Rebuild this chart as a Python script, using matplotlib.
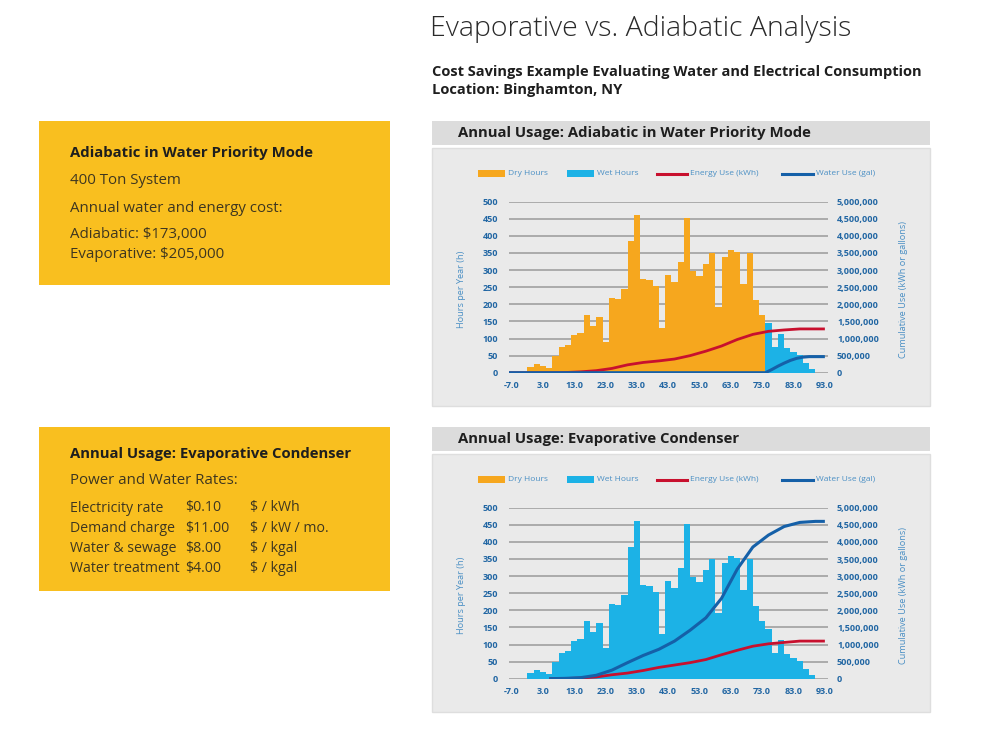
import numpy as np
import matplotlib
matplotlib.use("Agg")
import matplotlib.pyplot as plt
from matplotlib.patches import Rectangle
from matplotlib.lines import Line2D
from matplotlib.ticker import FuncFormatter

plt.rcParams["font.family"] = ["Open Sans", "DejaVu Sans"]

W, H = 1000, 732

# temperature bins (bin centres, deg F) and hours per year in each bin
temps = [-1, 1, 3, 5, 7, 9, 11, 13, 15, 17, 19, 21, 23, 25, 27, 29, 31, 33, 35, 37,
         39, 41, 43, 45, 47, 49, 51, 53, 55, 57, 59, 61, 63, 65, 67, 69, 71, 73,
         75, 77, 79, 81, 83, 85, 87, 89]
hours = [17, 25, 20, 15, 48, 76, 82, 110, 116, 170, 136, 162, 90, 217, 216, 245, 385, 460, 275, 270,
         253, 130, 287, 265, 323, 452, 297, 282, 318, 350, 192, 338, 360, 352, 260, 350, 212, 168,
         146, 76, 112, 71, 61, 51, 27, 12]
dry_limit = 74  # adiabatic unit runs dry below this temperature

# cumulative use, adiabatic (water priority)
adia_energy_t = [-8, 5, 10, 15, 20, 25, 30, 35, 40, 45, 50, 55, 60, 65, 70, 75, 80, 85, 90, 93]
adia_energy = [0, 0, 5e3, 25e3, 60e3, 125e3, 230e3, 300e3, 345e3, 400e3, 500e3, 630e3, 780e3,
               970e3, 1120e3, 1210e3, 1250e3, 1280e3, 1280e3, 1280e3]
adia_water_t = [-8, 74, 76, 78, 80, 82, 84, 86, 88, 90, 93]
adia_water = [0, 0, 90e3, 190e3, 280e3, 360e3, 420e3, 455e3, 470e3, 470e3, 470e3]

# cumulative use, evaporative condenser
evap_energy_t = [5, 10, 15, 20, 25, 30, 35, 40, 45, 50, 55, 60, 65, 70, 75, 80, 85, 90, 93]
evap_energy = [0, 5e3, 20e3, 50e3, 115e3, 165e3, 240e3, 330e3, 400e3, 470e3, 560e3, 700e3,
               830e3, 950e3, 1020e3, 1060e3, 1100e3, 1100e3, 1100e3]
evap_water_t = [5, 10, 15, 20, 25, 30, 35, 40, 45, 50, 55, 60, 65, 70, 75, 80, 85, 90, 93]
evap_water = [0, 10e3, 30e3, 100e3, 250e3, 470e3, 680e3, 860e3, 1100e3, 1420e3, 1780e3, 2350e3,
              3200e3, 3850e3, 4200e3, 4450e3, 4570e3, 4600e3, 4600e3]

x_ticks = [-7, 3, 13, 23, 33, 43, 53, 63, 73, 83, 93]

rates = [
    ("Electricity rate", "$0.10", "$ / kWh"),
    ("Demand charge", "$11.00", "$ / kW / mo."),
    ("Water & sewage", "$8.00", "$ / kgal"),
    ("Water treatment", "$4.00", "$ / kgal"),
]

ORANGE = "#F6A71E"
CYAN = "#1CB2E6"
RED = "#C8102E"
NAVY = "#1560A8"
TICK = "#2166A3"
LABEL = "#4A8FC4"
YELLOW = "#F9BF1F"
BOXTXT = "#3E3620"


def px_axes(fig, x0, y0, x1, y1):
    return fig.add_axes([x0 / W, 1 - y1 / H, (x1 - x0) / W, (y1 - y0) / H])


def draw_legend(bg, yc):
    bg.add_patch(Rectangle((478, yc - 3.5), 27, 7, color=ORANGE, lw=0))
    bg.text(508, yc, "Dry Hours", fontsize=6, color=LABEL, va="center")
    bg.add_patch(Rectangle((567, yc - 3.5), 27, 7, color=CYAN, lw=0))
    bg.text(597, yc, "Wet Hours", fontsize=6, color=LABEL, va="center")
    bg.add_line(Line2D([657, 687], [yc, yc], color=RED, lw=2.2))
    bg.text(690, yc, "Energy Use (kWh)", fontsize=6, color=LABEL, va="center")
    bg.add_line(Line2D([782, 813], [yc, yc], color=NAVY, lw=2.2))
    bg.text(816, yc, "Water Use (gal)", fontsize=6, color=LABEL, va="center")


def draw_chart(fig, bg, top, title, bar_colors, energy_t, energy, water_t, water):
    # panel: header band + body
    bg.add_patch(Rectangle((432, top), 498, 24, color="#DCDCDC", lw=0))
    bg.text(458, top + 12, title, fontsize=10.7, fontweight="bold", color="#1E1E1E", va="center")
    bg.add_patch(Rectangle((432, top + 27), 498, 258, facecolor="#EAEAEA",
                           edgecolor="#DEDEDE", lw=1))
    draw_legend(bg, top + 52.5)

    y0 = top + 80.7
    y1 = top + 251.7
    ax = px_axes(fig, 508.6, y0, 828, y1)
    ax.set_facecolor("none")
    ax.set_axisbelow(True)
    ax.bar(temps, hours, width=2.0, color=bar_colors, lw=0)
    ax.set_xlim(-8, 94)
    ax.set_ylim(0, 500)
    ax.set_yticks(range(0, 501, 50))
    ax.set_xticks(x_ticks)
    ax.set_xticklabels(["%.1f" % t for t in x_ticks])
    ax.grid(axis="y", color="#9A9A9A", lw=1.1)
    for s in ax.spines.values():
        s.set_visible(False)
    ax.tick_params(length=0, labelsize=6.5, labelcolor=TICK)
    ax.tick_params(axis="y", pad=7.5)
    ax.tick_params(axis="x", pad=6)
    for lab in ax.get_xticklabels() + ax.get_yticklabels():
        lab.set_fontweight("bold")

    ax2 = ax.twinx()
    ax2.set_ylim(0, 5e6)
    ax2.set_yticks(np.arange(0, 5e6 + 1, 5e5))
    ax2.yaxis.set_major_formatter(FuncFormatter(lambda v, p: "{:,}".format(int(v))))
    for s in ax2.spines.values():
        s.set_visible(False)
    ax2.tick_params(length=0, labelsize=6.5, labelcolor=TICK, pad=6.5)
    for lab in ax2.get_yticklabels():
        lab.set_fontweight("bold")
    ax2.plot(energy_t, energy, color=RED, lw=2.0, solid_capstyle="butt")
    ax2.plot(water_t, water, color=NAVY, lw=2.2, solid_capstyle="butt")
    ax2.set_xlim(-8, 94)

    yc = (y0 + y1) / 2 + 2
    bg.text(462, yc, "Hours per Year (h)", fontsize=6.6, color=LABEL, rotation=90,
            ha="center", va="center")
    bg.text(903, yc, "Cumulative Use (kWh or gallons)", fontsize=6.6, color=LABEL,
            rotation=90, ha="center", va="center")


def main():
    fig = plt.figure(figsize=(W / 100, H / 100), dpi=100)
    fig.patch.set_facecolor("white")
    bg = fig.add_axes([0, 0, 1, 1])
    bg.set_xlim(0, W)
    bg.set_ylim(H, 0)
    bg.axis("off")

    # header text
    bg.text(430, 29, "Evaporative vs. Adiabatic Analysis", fontsize=20.5, fontweight="light",
            color="#2A2A2A", va="center")
    bg.text(432, 72, "Cost Savings Example Evaluating Water and Electrical Consumption",
            fontsize=10.5, fontweight="bold", color="#1E1E1E", va="center")
    bg.text(432, 90, "Location: Binghamton, NY", fontsize=10.5, fontweight="bold",
            color="#1E1E1E", va="center")

    # left info boxes
    bg.add_patch(Rectangle((39, 121), 351, 164, color=YELLOW, lw=0))
    bg.text(70, 153, "Adiabatic in Water Priority Mode", fontsize=10.7, fontweight="bold",
            color="#1E1E1E", va="center")
    bg.text(70, 180, "400 Ton System", fontsize=10.8, color=BOXTXT, va="center")
    bg.text(70, 208, "Annual water and energy cost:", fontsize=10.8, color=BOXTXT, va="center")
    bg.text(70, 235, "Adiabatic: $173,000", fontsize=10.8, color=BOXTXT, va="center")
    bg.text(70, 254, "Evaporative: $205,000", fontsize=10.8, color=BOXTXT, va="center")

    bg.add_patch(Rectangle((39, 427), 351, 164, color=YELLOW, lw=0))
    bg.text(70, 454, "Annual Usage: Evaporative Condenser", fontsize=10.7, fontweight="bold",
            color="#1E1E1E", va="center")
    bg.text(70, 480, "Power and Water Rates:", fontsize=10.8, color=BOXTXT, va="center")
    for i, (name, price, unit) in enumerate(rates):
        yy = 508 + i * 20.3
        bg.text(70, yy, name, fontsize=10.2, color=BOXTXT, va="center")
        bg.text(185, yy, price, fontsize=10.2, color=BOXTXT, va="center")
        bg.text(250, yy, unit, fontsize=10.2, color=BOXTXT, va="center")

    adia_colors = [ORANGE if t < dry_limit else CYAN for t in temps]
    draw_chart(fig, bg, 121, "Annual Usage: Adiabatic in Water Priority Mode", adia_colors,
               adia_energy_t, adia_energy, adia_water_t, adia_water)
    draw_chart(fig, bg, 427, "Annual Usage: Evaporative Condenser", CYAN,
               evap_energy_t, evap_energy, evap_water_t, evap_water)

    fig.savefig("out.png", dpi=100)


if __name__ == "__main__":
    main()
